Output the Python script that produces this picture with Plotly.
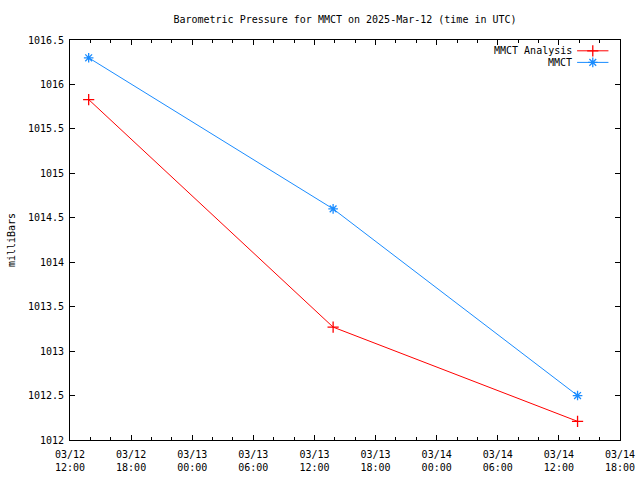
import plotly.graph_objects as go

# ---- data ----
times = ["2025-03-12 13:50", "2025-03-13 13:50", "2025-03-14 13:50"]
analysis_vals = [1015.83, 1013.27, 1012.21]
obs_vals = [1016.30, 1014.60, 1012.50]
series_names = ["MMCT Analysis", "MMCT"]
title_text = "Barometric Pressure for MMCT on 2025-Mar-12 (time in UTC)"
y_title = "milliBars"
x_range = ["2025-03-12 12:00", "2025-03-14 18:00"]
y_range = [1012, 1016.5]
y_tickvals = [1012, 1012.5, 1013, 1013.5, 1014, 1014.5, 1015, 1015.5, 1016, 1016.5]
y_ticktext = ["1012", "1012.5", "1013", "1013.5", "1014", "1014.5", "1015", "1015.5", "1016", "1016.5"]

RED = "#ff0000"
BLUE = "#1a8cff"
FONT = "DejaVu Sans Mono"

fig = go.Figure()
fig.add_trace(go.Scatter(
    x=times, y=analysis_vals, mode="lines+markers", name=series_names[0],
    line=dict(color=RED, width=1),
    marker=dict(symbol="cross-thin", size=8, line=dict(color=RED, width=1.3)),
    showlegend=False))
fig.add_trace(go.Scatter(
    x=times, y=obs_vals, mode="lines+markers", name=series_names[1],
    line=dict(color=BLUE, width=1),
    marker=dict(symbol="asterisk", size=8, line=dict(color=BLUE, width=1.3)),
    showlegend=False))

# ---- manual gnuplot-style legend (key sample on the right of text) ----
legend_rows = [(0.973, RED, "cross-thin"), (0.944, BLUE, "asterisk")]
for (ypos, col, sym), name in zip(legend_rows, series_names):
    fig.add_annotation(xref="paper", yref="paper", x=0.917, y=ypos, text=name,
                       showarrow=False, xanchor="right", yanchor="middle",
                       font=dict(family=FONT, size=10, color="black"))
    fig.add_shape(type="line", xref="paper", yref="paper",
                  x0=0.922, x1=0.979, y0=ypos, y1=ypos,
                  line=dict(color=col, width=1))
    fig.add_trace(go.Scatter(
        x=[0.9505], y=[ypos], xaxis="x2", yaxis="y2", mode="markers",
        marker=dict(symbol=sym, size=8, line=dict(color=col, width=1.3)),
        showlegend=False, hoverinfo="skip"))

fig.update_layout(
    width=640, height=480,
    margin=dict(l=70, r=20, t=40, b=40, autoexpand=False),
    paper_bgcolor="white", plot_bgcolor="white",
    font=dict(family=FONT, size=10, color="black"),
    title=dict(text=title_text, x=(70 + 620) / 2 / 640, xanchor="center",
               y=1 - 19 / 480, yanchor="middle",
               font=dict(family=FONT, size=10, color="black")),
    xaxis=dict(range=x_range, type="date", showgrid=False, zeroline=False,
               automargin=False,
               showline=True, linecolor="black", linewidth=1, mirror="ticks",
               ticks="inside", ticklen=5, tickcolor="black",
               dtick=6 * 3600 * 1000, tick0="2025-03-12 12:00",
               tickformat="%m/%d<br>%H:%M", ticklabelstandoff=5,
               minor=dict(ticks="inside", ticklen=3, dtick=2 * 3600 * 1000,
                          tickcolor="black", showgrid=False)),
    yaxis=dict(range=y_range, showgrid=False, zeroline=False,
               automargin=False,
               showline=True, linecolor="black", linewidth=1, mirror="ticks",
               ticks="inside", ticklen=5, tickcolor="black",
               tickvals=y_tickvals, ticktext=y_ticktext, ticklabelstandoff=3,
               title=dict(text=y_title, font=dict(family=FONT, size=10), standoff=10)),
    xaxis2=dict(range=[0, 1], overlaying="x", visible=False, domain=[0, 1]),
    yaxis2=dict(range=[0, 1], overlaying="y", visible=False),
    showlegend=False,
)

fig.write_html("out.html", config={"displayModeBar": False},
               post_script="document.body.style.margin='0';")
